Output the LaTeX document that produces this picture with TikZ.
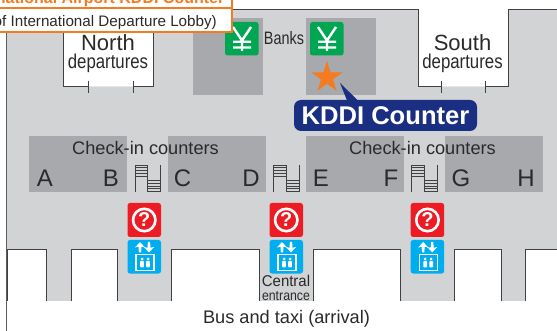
\documentclass[tikz,border=0pt]{standalone}
\usepackage{fontspec}
\setmainfont{Liberation Sans}
\usetikzlibrary{shapes.geometric}
\definecolor{floorgray}{HTML}{D1D3D4}
\definecolor{zonegray}{HTML}{A7A9AC}
\definecolor{wallc}{HTML}{414042}
\definecolor{inkc}{HTML}{2B2A2B}
\definecolor{orangec}{HTML}{F47B20}
\definecolor{navyc}{HTML}{1B2F82}
\definecolor{greenc}{HTML}{00A651}
\definecolor{redc}{HTML}{ED1C24}
\definecolor{bluec}{HTML}{00AEEF}
\newcommand{\fsz}[1]{\fontsize{#1}{#1}\selectfont}
\newcommand{\sqz}[2]{\scalebox{#1}[1]{#2}}
\newcommand{\yenicon}[2]{%
  \begin{scope}[shift={(#1,#2)}]
    \fill[greenc,rounded corners=2.5pt] (0,0) rectangle (33.5,33.5);
    \draw[white,line width=2.4pt] (8,5) -- (17,18.5) -- (26,5) (17,18.5) -- (17,29) (8,19.8) -- (26,19.8) (8,25.5) -- (26,25.5);
  \end{scope}}
\newcommand{\helpicon}[2]{%
  \begin{scope}[shift={(#1,#2)}]
    \fill[redc,rounded corners=2.5pt] (0,0) rectangle (33.5,34);
    \draw[white,line width=2.6pt] (16.75,17) circle (11.2pt);
    \node[white,font=\bfseries\fsz{20}] at (16.75,16.8) {?};
  \end{scope}}
\newcommand{\lifticon}[2]{%
  \begin{scope}[shift={(#1,#2)}]
    \fill[bluec,rounded corners=2.5pt] (0,0) rectangle (33.5,33.5);
    \fill[white] (12.5,2) -- (17.5,7.5) -- (14,6.7) -- (13.6,12.5) -- (11.4,12.5) -- (11,6.7) -- (7.5,7.5) -- cycle;
    \fill[white] (21.5,12.5) -- (16.5,7) -- (20,7.8) -- (20.4,2) -- (22.6,2) -- (23,7.8) -- (26.5,7) -- cycle;
    \draw[white,line width=1.4pt] (8.5,14.8) rectangle (26.5,30.5);
    \foreach \px in {14.5,20.5}{
      \fill[white] (\px,19) circle (1.5pt);
      \fill[white,rounded corners=.8pt] (\px-1.8,20.8) rectangle (\px+1.8,27.5);
    }
  \end{scope}}
\newcommand{\stairicon}[1]{%
  \begin{scope}[shift={(#1,165)},wallc,line width=.7pt]
    \draw (0,0) -- (0,27) (12.7,0) -- (12.7,27) (25.7,0) -- (25.7,27);
    \foreach \sy in {0,2.8,5.6,8.4,11.2} \draw (0,\sy) -- (12.7,\sy);
    \foreach \sy in {15.4,18.2,21,23.8,26.6} \draw (12.7,\sy) -- (25.7,\sy);
  \end{scope}}
\tikzset{
  lab/.style={anchor=base,inner sep=0pt,text=inkc},
  wall/.style={draw=wallc,line width=1pt},
  zone/.style={fill=zonegray},
}
\begin{document}
\begin{tikzpicture}[x=1pt,y=-1pt]
\useasboundingbox (0,0) rectangle (557,331);
\clip (0,0) rectangle (557,331);
\fill[white] (0,0) rectangle (557,331);
% floor
\fill[floorgray] (7,10) rectangle (557,300.5);
% notches
\fill[white] (63,0) rectangle (153,87);
\fill[white] (418,0) rectangle (508,87);
% outer walls
\draw[wall] (7,10) -- (418,10) -- (418,87) -- (441,87);
\draw[wall] (485.5,87) -- (508,87) -- (508,10) -- (557,10);
\draw[wall] (63,10) -- (63,87) -- (88.5,87);
\draw[wall] (133,87) -- (153,87) -- (153,10);
\draw[draw=white!90!black,line width=1pt] (88.5,87) -- (133,87) (441,87) -- (485.5,87);
\draw[wall] (88.5,81) -- (88.5,93.5) (133,81) -- (133,93.5) (441,81) -- (441,93.5) (485.5,81) -- (485.5,93.5);
\draw[draw=wallc!85!white,line width=1.3pt] (6.8,10) -- (6.8,331);
% zones
\fill[zone] (193,18) rectangle (263,95);
\fill[zone] (306,18) rectangle (376,95);
\fill[zone] (29,136) rectangle (127,192);
\fill[zone] (168,136) rectangle (266,192);
\fill[zone] (306,136) rectangle (404,192);
\fill[zone] (445,136) rectangle (543,192);
% bottom blocks
\foreach \xa/\xb in {7.5/46,71/117,171.3/259,313/400.7,454.7/501.3,525.7/558}{
  \fill[white] (\xa,250) rectangle (\xb,300.5);
  \draw[wall] (\xa,300.5) -- (\xa,250) -- (\xb,250) -- (\xb,300.5);
}
% icons
\yenicon{225}{22}
\yenicon{310}{22}
\node[star,star points=5,star point ratio=2.618,minimum size=32.6pt,inner sep=0pt,outer sep=0pt,fill=orangec] (star) at (327,77.5) {};
\foreach \sx in {135,273.5,411.5}{\stairicon{\sx}}
\helpicon{127.5}{203}
\helpicon{269.5}{203}
\helpicon{410.7}{203}
\lifticon{127.5}{240}
\lifticon{269.5}{240}
\lifticon{410.7}{240}
% KDDI bubble
\fill[navyc] (340,83) -- (358,100.5) -- (347,100.5) -- cycle;
\node[fill=navyc,rounded corners=7pt,minimum width=183pt,minimum height=31pt,inner sep=0pt,text=white,font=\bfseries\fsz{25.6}] (kddi) at (385.5,115.5) {KDDI Counter};
% labels
\node[lab,font=\fsz{22}] (north) at (108,51) {North};
\node[lab,font=\fsz{20}] (northd) at (108,69) {\sqz{.84}{departures}};
\node[lab,font=\fsz{22}] (south) at (462.5,51) {South};
\node[lab,font=\fsz{20}] (southd) at (462.5,69) {\sqz{.84}{departures}};
\node[lab,font=\fsz{18}] (banks) at (284,45) {\sqz{.8}{Banks}};
\node[lab,font=\fsz{18.2}] (checka) at (145.5,155) {Check-in counters};
\node[lab,font=\fsz{18.2}] (checkb) at (422.5,155) {Check-in counters};
\foreach \t/\cx in {A/45,B/111,C/182.5,D/251,E/321,F/391,G/461,H/526}{
  \node[lab,font=\fsz{24}] (cnt\t) at (\cx,187) {\t};
}
\node[lab,font=\fsz{15.6}] (centa) at (286,287) {\sqz{.96}{Central}};
\node[lab,font=\fsz{14}] (centb) at (286,300) {\sqz{.88}{entrance}};
\node[lab,font=\fsz{18.2}] (bus) at (286.5,323) {Bus and taxi (arrival)};
% orange label
\fill[white] (-5,-5) rectangle (232,32);
\draw[orangec,line width=2pt] (232,-5) -- (232,32) -- (-5,32) (232,8.5) -- (-5,8.5);
\node[anchor=base east,inner sep=0pt,text=orangec,font=\bfseries\fsz{16}] (title) at (224.5,3.5) {International Airport KDDI Counter};
\node[anchor=base east,inner sep=0pt,text=inkc,font=\fsz{15.2}] (titleb) at (217,26.7) {(of International Departure Lobby)};
\end{tikzpicture}
\end{document}
